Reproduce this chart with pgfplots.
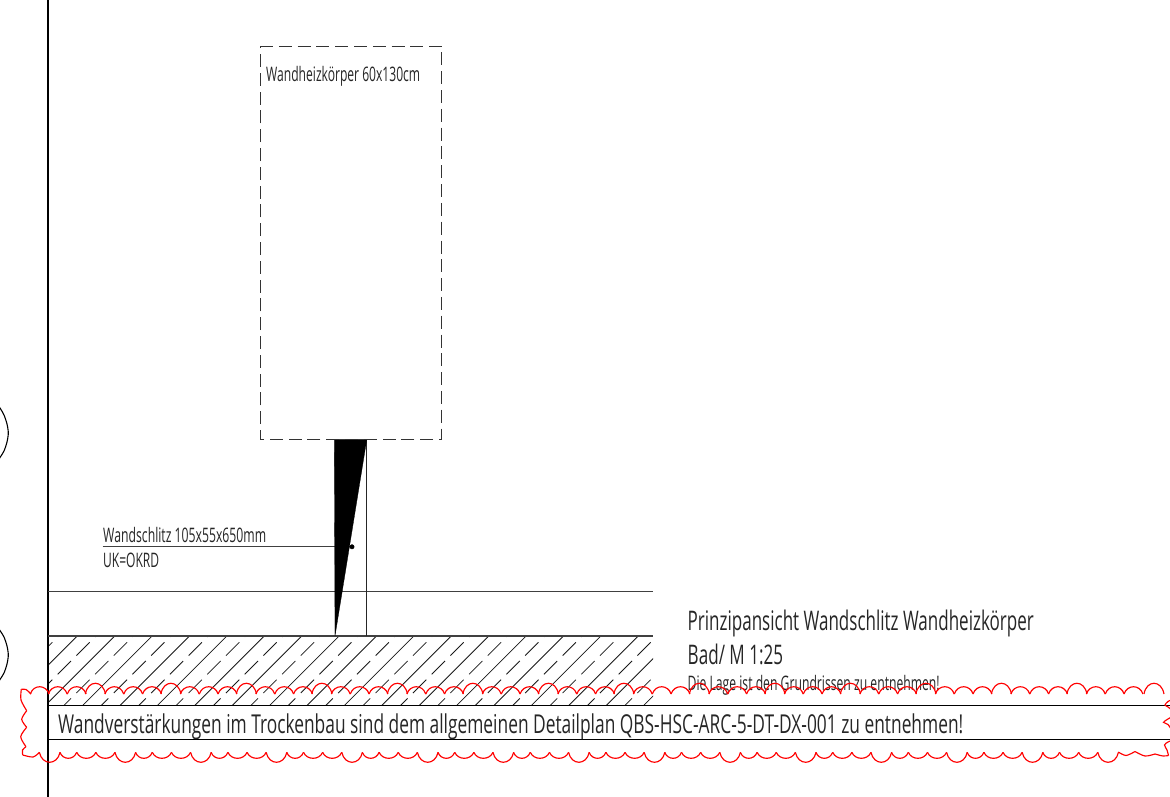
\documentclass[border=0pt]{standalone}
\usepackage{pgfplots}
\pgfplotsset{compat=1.18}
\usepackage{graphicx}
\usepackage{fontspec}
\setmainfont{Open Sans}
\definecolor{txt}{gray}{0.15}
\newcommand\T[3]{\fontsize{#1}{#1}\selectfont\color{txt}\resizebox{#2}{\height}{#3}}
\pgfdeclareplotmark{ts}{\pgfpathmoveto{\pgfqpoint{-9.44pt}{0pt}}\pgfpathcurveto{\pgfqpoint{-6.2pt}{9.7pt}}{\pgfqpoint{6.2pt}{9.7pt}}{\pgfqpoint{9.44pt}{0pt}}\pgfusepathqstroke}
\pgfdeclareplotmark{tb}{\pgfpathmoveto{\pgfqpoint{-10pt}{0pt}}\pgfpathcurveto{\pgfqpoint{-7.5pt}{14.3pt}}{\pgfqpoint{7.5pt}{14.3pt}}{\pgfqpoint{10pt}{0pt}}\pgfusepathqstroke}
\pgfdeclareplotmark{bb}{\pgfpathmoveto{\pgfqpoint{-10.35pt}{0pt}}\pgfpathcurveto{\pgfqpoint{-7.5pt}{-13.3pt}}{\pgfqpoint{7.5pt}{-13.3pt}}{\pgfqpoint{10.35pt}{0pt}}\pgfusepathqstroke}
\pgfdeclareplotmark{bs}{\pgfpathmoveto{\pgfqpoint{-8.35pt}{0pt}}\pgfpathcurveto{\pgfqpoint{-5.5pt}{-8pt}}{\pgfqpoint{5.5pt}{-8pt}}{\pgfqpoint{8.35pt}{0pt}}\pgfusepathqstroke}
\pgfdeclareplotmark{bw}{\pgfpathmoveto{\pgfqpoint{-9.55pt}{0pt}}\pgfpathcurveto{\pgfqpoint{-6.3pt}{-8pt}}{\pgfqpoint{6.3pt}{-8pt}}{\pgfqpoint{9.55pt}{0pt}}\pgfusepathqstroke}
\begin{document}
\begin{tikzpicture}[x=1pt,y=1pt]
\useasboundingbox (0,0) rectangle (1170pt,797pt);
% ---- hatching of the floor slab, clipped by its own axis
\begin{axis}[at={(48pt,91.5pt)},anchor=south west,width=605pt,height=69.5pt,scale only axis,
  xmin=48,xmax=653,ymin=636,ymax=705.5,y dir=reverse,hide axis,clip=true]
\addplot[black!90,line width=0.8pt,no marks,unbounded coords=jump] table {
x y
77.3 636
7.8 705.5
nan nan
114.7 636
45.2 705.5
nan nan
152.1 636
82.6 705.5
nan nan
189.5 636
120 705.5
nan nan
226.9 636
157.4 705.5
nan nan
264.3 636
194.8 705.5
nan nan
301.7 636
232.2 705.5
nan nan
339.1 636
269.6 705.5
nan nan
376.5 636
307 705.5
nan nan
413.9 636
344.4 705.5
nan nan
451.3 636
381.8 705.5
nan nan
488.7 636
419.2 705.5
nan nan
526.1 636
456.6 705.5
nan nan
563.5 636
494 705.5
nan nan
600.9 636
531.4 705.5
nan nan
638.3 636
568.8 705.5
nan nan
675.7 636
606.2 705.5
nan nan
713.1 636
643.6 705.5
};
\addplot[black!90,line width=0.8pt,no marks,unbounded coords=jump,dash pattern=on 18.81pt off 7.64pt] table {
x y
71 623.6
-17.1 711.7
nan nan
108.4 623.6
20.3 711.7
nan nan
145.8 623.6
57.7 711.7
nan nan
183.2 623.6
95.1 711.7
nan nan
220.6 623.6
132.5 711.7
nan nan
258 623.6
169.9 711.7
nan nan
295.4 623.6
207.3 711.7
nan nan
332.8 623.6
244.7 711.7
nan nan
370.2 623.6
282.1 711.7
nan nan
407.6 623.6
319.5 711.7
nan nan
445 623.6
356.9 711.7
nan nan
482.4 623.6
394.3 711.7
nan nan
519.8 623.6
431.7 711.7
nan nan
557.2 623.6
469.1 711.7
nan nan
594.6 623.6
506.5 711.7
nan nan
632 623.6
543.9 711.7
nan nan
669.4 623.6
581.3 711.7
nan nan
706.8 623.6
618.7 711.7
};
\end{axis}
% ---- everything else, in pixel coordinates of the reference
\begin{axis}[at={(0pt,0pt)},anchor=south west,width=1170pt,height=797pt,scale only axis,
  xmin=0,xmax=1170,ymin=0,ymax=797,y dir=reverse,hide axis,clip=true]
% black lines
\addplot[black,line width=1.2pt,no marks] coordinates {(48,0)(48,797)};
\addplot[black!75,line width=1pt,no marks] coordinates {(48,591)(653,591)};
\addplot[black!75,line width=1.1pt,no marks] coordinates {(48,636)(653,636)};
\addplot[black,line width=1.3pt,no marks] coordinates {(48,705.7)(1170,705.7)};
\addplot[black,line width=1.3pt,no marks] coordinates {(48,739.4)(1170,739.4)};
\addplot[black!85,line width=1pt,no marks] coordinates {(366.8,439)(366.8,636)};
\addplot[black!75,line width=1pt,no marks] coordinates {(102.7,546.8)(352,546.8)};
% wedge and dot
\addplot[fill=black,draw=black,line width=0.3pt,no marks] coordinates {(334.3,439.3)(366.8,439.3)(335,636)} -- cycle;
\addplot[only marks,mark=*,mark size=2.2pt,mark options={fill=black,draw=black}] coordinates {(352,546.8)};
% dashed radiator
\addplot[black!80,line width=0.9pt,no marks,dash pattern=on 13pt off 5.8pt] coordinates {(260,46)(441.5,46)(441.5,439)(260,439)(260,46)};
% grid circles at the left edge
\addplot[black,line width=1.1pt,no marks,smooth] coordinates {(-3,404)(0,408)(4,415)(7,424)(8.3,433)(7,442)(4,451)(0,457.5)(-3,462)};
\addplot[black,line width=1.1pt,no marks,smooth] coordinates {(-3,626)(0,630.5)(4,637)(7,646)(8.3,655)(7,664)(4,673)(0,679.5)(-3,684)};
% revision cloud, top
\addplot[only marks,mark=tb,mark options={draw=red,line width=1.15pt}] coordinates {(95.4,694)(170.9,694)(246.4,694)(321.9,694)(397.4,694)(472.9,694)(548.4,694)(623.9,694)(699.4,694)(774.9,694)(850.4,694)(925.9,694)(1001.4,694)(1076.9,694)(1154,694)};
\addplot[only marks,mark=ts,mark options={draw=red,line width=1.15pt}] coordinates {(39.7,694)(57.8,694)(76.7,694)(114.3,694)(133.2,694)(152,694)(189.8,694)(208.7,694)(227.5,694)(265.3,694)(284.2,694)(303,694)(340.8,694)(359.7,694)(378.5,694)(416.3,694)(435.2,694)(454,694)(491.8,694)(510.7,694)(529.5,694)(567.3,694)(586.2,694)(605,694)(642.8,694)(661.7,694)(680.5,694)(718.3,694)(737.2,694)(756,694)(793.8,694)(812.7,694)(831.5,694)(869.3,694)(888.2,694)(907,694)(944.8,694)(963.7,694)(982.5,694)(1020.3,694)(1039.2,694)(1058,694)(1095.8,694)(1114.7,694)(1133.5,694)};
% revision cloud, bottom
\addplot[only marks,mark=bb,mark options={draw=red,line width=1.15pt}] coordinates {(49.7,752.3)(125.3,752.3)(200.9,752.3)(276.5,752.3)(352.1,752.3)(427.7,752.3)(503.3,752.3)(578.9,752.3)(654.5,752.3)(730.1,752.3)(805.7,752.3)(881.3,752.3)(956.9,752.3)(1032.5,752.3)(1108.1,752.3)};
\addplot[only marks,mark=bs,mark options={draw=red,line width=1.15pt}] coordinates {(68.3,752.3)(143.9,752.3)(219.5,752.3)(295.1,752.3)(370.7,752.3)(446.3,752.3)(521.9,752.3)(597.5,752.3)(673.1,752.3)(748.7,752.3)(824.3,752.3)(899.9,752.3)(975.5,752.3)(1051.1,752.3)};
\addplot[only marks,mark=bw,mark options={draw=red,line width=1.15pt}] coordinates {(86.3,752.3)(105.4,752.3)(161.9,752.3)(181,752.3)(237.5,752.3)(256.6,752.3)(313.1,752.3)(332.2,752.3)(388.7,752.3)(407.8,752.3)(464.3,752.3)(483.4,752.3)(539.9,752.3)(559,752.3)(615.5,752.3)(634.6,752.3)(691.1,752.3)(710.2,752.3)(766.7,752.3)(785.8,752.3)(842.3,752.3)(861.4,752.3)(917.9,752.3)(937,752.3)(993.5,752.3)(1012.6,752.3)(1069.1,752.3)(1088.2,752.3)};
% revision cloud, irregular ends
\pgfplotsset{cloud/.style={red,line width=1.15pt,no marks,smooth}}
\addplot[cloud] coordinates {(31,694)(26,689.5)(21.3,689.3)};
\addplot[cloud] coordinates {(21.3,689.3)(21,700)(26.7,710.7)};
\addplot[cloud] coordinates {(26.7,710.7)(21.7,719.3)(26.7,727.3)};
\addplot[cloud] coordinates {(26.7,727.3)(20.7,736.7)(26,746.7)};
\addplot[cloud] coordinates {(26,746.7)(22.5,750)(22.7,755)};
\addplot[cloud] coordinates {(22.7,755)(33,757)(39.5,752.3)};
\addplot[cloud] coordinates {(1118.3,752)(1126,755.5)(1135,751.5)};
\addplot[cloud] coordinates {(1135,751.5)(1145,756)(1155,754)};
\addplot[cloud] coordinates {(1155,754)(1163,756)(1168.5,755.5)};
\addplot[cloud] coordinates {(1168.5,755.5)(1167,750)(1164.5,745)(1168,742)(1173,740)};
\addplot[cloud] coordinates {(1173,732)(1168,724.5)(1163.5,722.3)(1168,719)(1173,716)};
\addplot[cloud] coordinates {(1173,711)(1168,707)(1165,705)(1168,701.5)(1173,699)};
% texts
\node[anchor=base west,inner sep=0pt] at (axis cs:266,82) {\T{20}{154pt}{Wandheizkörper 60x130cm}};
\node[anchor=base west,inner sep=0pt] at (axis cs:103,542) {\T{20}{163pt}{Wandschlitz 105x55x650mm}};
\node[anchor=base west,inner sep=0pt] at (axis cs:103,567) {\T{20}{56pt}{UK=OKRD}};
\node[anchor=base west,inner sep=0pt] at (axis cs:687.5,630.5) {\T{27}{346pt}{Prinzipansicht Wandschlitz Wandheizkörper}};
\node[anchor=base west,inner sep=0pt] at (axis cs:687.5,664.5) {\T{27}{95.5pt}{Bad/ M 1:25}};
\node[anchor=base west,inner sep=0pt] at (axis cs:687.5,690) {\T{20}{252pt}{Die Lage ist den Grundrissen zu entnehmen!}};
\node[anchor=base west,inner sep=0pt] at (axis cs:58,733.3) {\T{26}{905pt}{Wandverstärkungen im Trockenbau sind dem allgemeinen Detailplan QBS-HSC-ARC-5-DT-DX-001 zu entnehmen!}};
\end{axis}
\end{tikzpicture}
\end{document}
